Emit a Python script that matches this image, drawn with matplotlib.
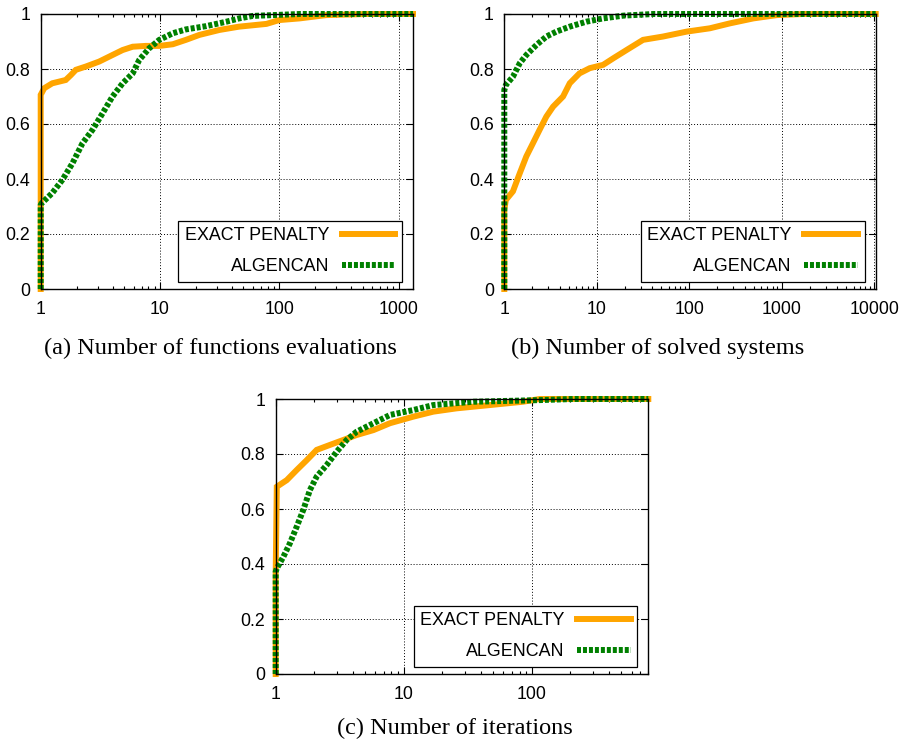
import matplotlib
matplotlib.use("Agg")
import matplotlib.pyplot as plt
from matplotlib.ticker import FixedLocator, FixedFormatter, LogLocator, NullFormatter

# ---------------- data (performance profiles) ----------------
# Panel (a): Number of functions evaluations
a_ep_x = [1, 1, 1, 1.07, 1.25, 1.62, 1.79, 1.97, 2.39, 3.09, 4.0, 4.86, 5.9, 7.6, 9.87,
          12.8, 16.5, 21.4, 31.5, 46, 78, 100, 148, 247, 540, 1320]
a_ep_y = [0, 0.30, 0.706, 0.73, 0.748, 0.76, 0.778, 0.797, 0.809, 0.827, 0.851, 0.869,
          0.881, 0.884, 0.884, 0.89, 0.906, 0.924, 0.942, 0.954, 0.964, 0.978, 0.984,
          0.996, 1.0, 1.0]
a_al_x = [1, 1, 1.02, 1.25, 1.52, 1.85, 2.24, 2.72, 3.3, 4.0, 4.86, 5.9, 6.7, 8.1, 9.87,
          12.8, 16.5, 24.4, 36, 46, 60, 148, 1320]
a_al_y = [0, 0.306, 0.312, 0.349, 0.397, 0.458, 0.53, 0.579, 0.639, 0.70, 0.748, 0.784,
          0.833, 0.875, 0.906, 0.93, 0.944, 0.956, 0.972, 0.984, 0.993, 1.0, 1.0]

# Panel (b): Number of solved systems
b_ep_x = [1, 1, 1.04, 1.24, 1.47, 1.73, 2.04, 2.41, 2.85, 3.37, 4.32, 5.1, 6.5, 8.4, 11.7,
          15.1, 21, 31.7, 52, 94, 167, 276, 494, 886, 1700, 10400]
b_ep_y = [0, 0.288, 0.324, 0.355, 0.421, 0.482, 0.53, 0.579, 0.627, 0.663, 0.70, 0.748,
          0.784, 0.803, 0.815, 0.839, 0.869, 0.906, 0.918, 0.936, 0.948, 0.966, 0.984,
          0.996, 1.0, 1.0]
b_al_x = [1, 1, 1.04, 1.24, 1.47, 1.73, 2.22, 2.85, 3.66, 5.1, 7.7, 11.7, 19.3, 40.8, 10400]
b_al_y = [0, 0.724, 0.742, 0.772, 0.821, 0.851, 0.887, 0.918, 0.936, 0.954, 0.972, 0.984,
          0.994, 1.0, 1.0]

# Panel (c): Number of iterations
c_ep_x = [1, 1, 1.02, 1.22, 1.46, 1.75, 2.09, 2.65, 3.37, 4.28, 5.8, 7.8, 11.9, 17, 25.8,
          47, 85, 115, 810]
c_ep_y = [0, 0.37, 0.681, 0.705, 0.742, 0.778, 0.815, 0.833, 0.851, 0.869, 0.887, 0.912,
          0.936, 0.954, 0.966, 0.978, 0.99, 1.0, 1.0]
c_al_x = [1, 1, 1.02, 1.15, 1.29, 1.46, 1.64, 1.85, 2.09, 2.5, 2.99, 3.58, 4.28, 5.8, 7.8,
          11.9, 17, 34.9, 115, 210, 810]
c_al_y = [0, 0.372, 0.384, 0.427, 0.475, 0.536, 0.596, 0.669, 0.718, 0.76, 0.808, 0.851,
          0.881, 0.912, 0.942, 0.96, 0.978, 0.99, 0.996, 1.0, 1.0]

series_names = ["EXACT PENALTY", "ALGENCAN"]
captions = ["(a) Number of functions evaluations", "(b) Number of solved systems",
            "(c) Number of iterations"]
y_ticks = [0, 0.2, 0.4, 0.6, 0.8, 1]
y_tick_labels = ["0", "0.2", "0.4", "0.6", "0.8", "1"]
x_ticks_a = [1, 10, 100, 1000]
x_ticks_b = [1, 10, 100, 1000, 10000]
x_ticks_c = [1, 10, 100]
xmax_a, xmax_b, xmax_c = 1320, 10400, 810

# ---------------- style ----------------
ORANGE = "#FFA500"
GREEN = "#008000"
LW = 4.3
SANS = "Liberation Sans"
SERIF = "Liberation Serif"

fig = plt.figure(figsize=(9.07, 7.43), dpi=100)
W, H = 907.0, 743.0

def make_axes(left_px, top_px, right_px, bottom_px):
    return fig.add_axes([left_px / W, 1 - bottom_px / H,
                         (right_px - left_px) / W, (bottom_px - top_px) / H])

axA = make_axes(40.7, 14, 413, 289)
axB = make_axes(504.3, 14, 875.7, 289)
axC = make_axes(275.7, 399, 648.3, 674)

panels = [
    (axA, a_ep_x, a_ep_y, a_al_x, a_al_y, x_ticks_a, xmax_a),
    (axB, b_ep_x, b_ep_y, b_al_x, b_al_y, x_ticks_b, xmax_b),
    (axC, c_ep_x, c_ep_y, c_al_x, c_al_y, x_ticks_c, xmax_c),
]

for ax, ex, ey, gx, gy, xt, xmax in panels:
    ax.set_xscale("log")
    ax.set_xlim(1, xmax)
    ax.set_ylim(0, 1)
    ax.plot(ex, ey, color=ORANGE, lw=LW, solid_joinstyle="miter",
            label=series_names[0], clip_on=False, zorder=3)
    ax.plot(gx, gy, color=GREEN, lw=LW, linestyle=(0, (0.67, 0.33)),
            dash_capstyle="butt", label=series_names[1], clip_on=False, zorder=4)
    ax.xaxis.set_major_locator(FixedLocator(xt))
    ax.xaxis.set_major_formatter(FixedFormatter([str(v) for v in xt]))
    ax.xaxis.set_minor_locator(LogLocator(base=10, subs=range(2, 10), numticks=20))
    ax.xaxis.set_minor_formatter(NullFormatter())
    ax.yaxis.set_major_locator(FixedLocator(y_ticks))
    ax.yaxis.set_major_formatter(FixedFormatter(y_tick_labels))
    ax.tick_params(which="both", direction="in", top=True, right=True, width=0.8,
                   labelsize=12.8)
    ax.tick_params(which="major", length=5)
    ax.tick_params(which="minor", length=2.5)
    ax.tick_params(axis="x", pad=8.5)
    ax.tick_params(axis="y", pad=7.5)
    for lab in ax.get_xticklabels() + ax.get_yticklabels():
        lab.set_fontfamily(SANS)
    ax.grid(True, which="major", color="black", linestyle=(0, (1, 2)), linewidth=0.7)
    ax.set_axisbelow(True)
    for sp in ax.spines.values():
        sp.set_linewidth(1.0)
        sp.set_zorder(5)
    leg = ax.legend(loc="lower right", bbox_to_anchor=(0.970, 0.0265), borderaxespad=0,
                    markerfirst=False, fancybox=False, framealpha=1, edgecolor="black",
                    prop={"family": SANS, "size": 12.9}, handlelength=3.0,
                    handletextpad=0.7, borderpad=0.36, labelspacing=0.78)
    leg.get_frame().set_linewidth(0.9)
    leg.set_zorder(6)

fig.text(220 / W, 1 - 348 / H, captions[0], ha="center", va="center",
         fontfamily=SERIF, fontsize=17.5)
fig.text(657.5 / W, 1 - 348 / H, captions[1], ha="center", va="center",
         fontfamily=SERIF, fontsize=17.5)
fig.text(455 / W, 1 - 728 / H, captions[2], ha="center", va="center",
         fontfamily=SERIF, fontsize=17.5)

fig.savefig("out.png", dpi=100)
